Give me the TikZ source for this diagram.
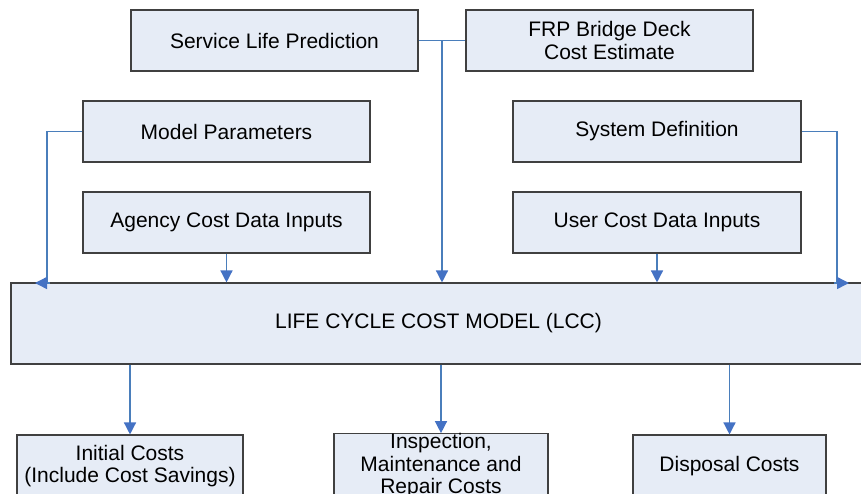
\documentclass[tikz,border=0pt]{standalone}
\usepackage{fontspec}
\setmainfont{Liberation Sans}
\usetikzlibrary{arrows.meta,calc}

\definecolor{boxfill}{HTML}{E6ECF6}
\definecolor{boxline}{HTML}{404040}
\definecolor{linkblue}{HTML}{4A7EBB}
\definecolor{tipblue}{HTML}{4472C4}

\tikzset{
  block/.style={draw=boxline, line width=1.1pt, fill=boxfill, rectangle,
    align=center, inner sep=0pt, font=\fontsize{21}{22.5}\selectfont},
  link/.style={draw=linkblue, line width=1.4pt},
  tip/.style={-{Triangle[length=12pt,width=12pt,fill=tipblue,color=tipblue]}},
}

\begin{document}
\begin{tikzpicture}[x=1pt,y=-1pt]
  \useasboundingbox (0,0) rectangle (861,493);
  \clip (0,0) rectangle (861,493);

  % input blocks
  \node[block, minimum width=287pt, minimum height=61pt] (slp) at (274.5,40.5) {Service Life Prediction};
  \node[block, minimum width=287pt, minimum height=61pt] (frp) at (609.5,40.5) {FRP Bridge Deck\\Cost Estimate};
  \node[block, minimum width=287pt, minimum height=61pt] (mp) at (226.5,131.5) {Model Parameters};
  \node[block, minimum width=287pt, minimum height=61pt] (acd) at (226.5,222.5) {Agency Cost Data Inputs};
  \node[block, minimum width=288pt, minimum height=61pt] (sd) at (657,131.5) {System Definition};
  \node[block, minimum width=288pt, minimum height=61pt] (ucd) at (657,222.5) {User Cost Data Inputs};

  % central model
  \node[block, minimum width=855pt, minimum height=81pt] (lcc) at (438.5,323.5) {LIFE CYCLE COST MODEL (LCC)};

  % output blocks
  \node[block, minimum width=226pt, minimum height=62pt] (ic) at (130,466) {Initial Costs\\(Include Cost Savings)};
  \node[block, minimum width=214pt, minimum height=62pt] (imr) at (441,466) {Inspection,\\Maintenance and\\Repair Costs};
  \node[block, minimum width=193pt, minimum height=62pt] (dc) at (729.5,466) {Disposal Costs};

  % top junction between the two upper blocks
  \coordinate (j) at ($(slp.east)!0.5!(frp.west)$);
  \draw[link] (slp.east) -- (frp.west);
  \draw[link, tip] (j) -- (j |- lcc.north);

  % side feeds
  \coordinate (lk) at (47,283);
  \coordinate (rk) at (837,283);
  \draw[link] (mp.west) -| (lk);
  \draw[link, tip] ($(lk)+(3,0)$) -- ($(lk)+(-12,0)$);
  \draw[link] (sd.east) -| (rk);
  \draw[link, tip] ($(rk)+(-3,0)$) -- ($(rk)+(12,0)$);

  % data inputs into the model
  \draw[link, tip] (acd.south) -- (acd.south |- lcc.north);
  \draw[link, tip] (ucd.south) -- (ucd.south |- lcc.north);

  % model outputs
  \draw[link, tip] (lcc.south -| ic.north) -- (ic.north);
  \draw[link, tip] (lcc.south -| imr.north) -- (imr.north);
  \draw[link, tip] (lcc.south -| dc.north) -- (dc.north);
\end{tikzpicture}
\end{document}
